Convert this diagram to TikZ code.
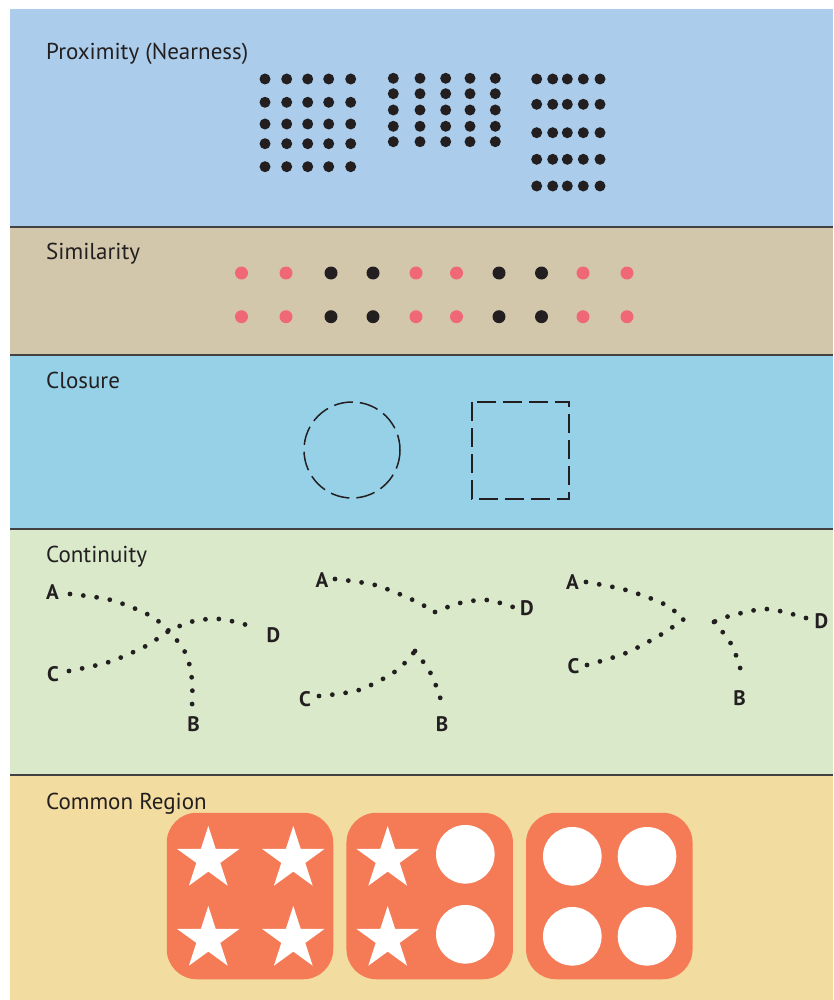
\documentclass[tikz,border=0pt]{standalone}
\usepackage{fontspec}
\usepackage{tikz}
\usetikzlibrary{shapes.geometric}
\newfontfamily\panelfont{PT Sans}
\newfontfamily\letterfont{PT Sans Bold}
\definecolor{ink}{HTML}{231F20}
\definecolor{proxbg}{HTML}{ABCDEB}
\definecolor{simbg}{HTML}{D3C7AB}
\definecolor{closbg}{HTML}{96D1E8}
\definecolor{contbg}{HTML}{D9E9C9}
\definecolor{regbg}{HTML}{F2DC9F}
\definecolor{pinkdot}{HTML}{F06878}
\definecolor{tile}{HTML}{F47B55}

\tikzset{
  title/.style={anchor=base west, inner sep=0, text=ink, font=\panelfont\fontsize{23}{27}\selectfont},
  letter/.style={inner sep=0, text=ink, font=\letterfont\fontsize{21}{24}\selectfont},
  dotp/.style={circle, fill=ink, inner sep=0, minimum size=11pt},
  dots/.style={circle, inner sep=0, minimum size=13pt},
  trail/.style={draw=ink, line width=4.8pt, line cap=round, dash pattern=on 0pt off 13.4pt},
  broken/.style={draw=ink, line width=1.5pt, dash pattern=on 19pt off 7pt},
  region/.style={rectangle, fill=tile, rounded corners=30pt, minimum size=166.5pt, inner sep=0},
  starw/.style={star, star points=5, star point ratio=2.62, fill=white, minimum size=66pt, inner sep=0},
  discw/.style={circle, fill=white, minimum size=58.6pt, inner sep=0}
}

\begin{document}
\begin{tikzpicture}[x=1pt, y=-1pt]
  \useasboundingbox (0,0) rectangle (833,1000);

  % panels
  \fill[proxbg] (10,9) rectangle (833,227);
  \fill[simbg] (10,227) rectangle (833,355);
  \fill[closbg] (10,355) rectangle (833,529);
  \fill[contbg] (10,529) rectangle (833,775);
  \fill[regbg] (10,775) rectangle (833,1000);
  \foreach \y in {227,355,529,775}
    \draw[ink!85, line width=1.4pt] (10,\y) -- (833,\y);

  \node[title] (tprox) at (46,60) {Proximity (Nearness)};
  \node[title] (tsim) at (46,259) {Similarity};
  \node[title] (tclos) at (46,388) {Closure};
  \node[title] (tcont) at (46,562.5) {Continuity};
  \node[title] (treg) at (46,809) {Common Region};

  % proximity
  \foreach \x [count=\i] in {265,286.7,307.7,328.7,350.7}
    \foreach \y [count=\j] in {79,102.3,124,143.7,166.7}
      \node[dotp] (pa-\i-\j) at (\x,\y) {};
  \foreach \x [count=\i] in {393.3,420,445.7,470,495.3}
    \foreach \y [count=\j] in {78.3,93.7,110,126.3,141.7}
      \node[dotp] (pb-\i-\j) at (\x,\y) {};
  \foreach \x [count=\i] in {536.7,552.7,567.3,583.3,600}
    \foreach \y [count=\j] in {79,104.3,132.7,159.3,186}
      \node[dotp] (pc-\i-\j) at (\x,\y) {};

  % similarity
  \foreach \x/\c [count=\i] in {241.5/pinkdot,286/pinkdot,331/ink,373/ink,416/pinkdot,456.5/pinkdot,499/ink,541.5/ink,583/pinkdot,627/pinkdot} {
    \node[dots, fill=\c] (su-\i) at (\x,273) {};
    \node[dots, fill=\c] (sl-\i) at (\x,316.7) {};
  }

  % closure
  \draw[broken] (352,450) circle (48);
  \draw[broken] (472,402) rectangle (569,499);

  % continuity
  \node[letter] (a1) at (52.5,592) {A};
  \node[letter] (d1) at (273.5,635) {D};
  \node[letter] (c1) at (53,674) {C};
  \node[letter] (b1) at (193.5,724) {B};
  \draw[trail] plot[smooth] coordinates {(70,594) (111,600) (149,615) (169,631) (186,654) (192,680) (192,707)};
  \draw[trail] plot[smooth] coordinates {(69,671) (109,662) (146,646) (169,631) (194,621) (220,619) (247,625)};

  \node[letter] (a2) at (322,580) {A};
  \node[letter] (d2) at (527,608) {D};
  \node[letter] (c2) at (305,699) {C};
  \node[letter] (b2) at (442,724) {B};
  \draw[trail] plot[smooth] coordinates {(335,579) (375,585) (413,600) (435,612)};
  \draw[trail] plot[smooth] coordinates {(435,612) (460,603) (487,600) (513,607)};
  \draw[trail] plot[smooth] coordinates {(319,696) (359,690) (396,671) (415,651)};
  \draw[trail] plot[smooth] coordinates {(415,651) (430,672) (440,697) (442,711)};

  \node[letter] (a3) at (572.5,582) {A};
  \node[letter] (d3) at (821.5,621) {D};
  \node[letter] (c3) at (573.5,666.5) {C};
  \node[letter] (b3) at (739.5,698.5) {B};
  \draw[trail] plot[smooth] coordinates {(586,582) (626,590) (664,604) (684,619)};
  \draw[trail] plot[smooth] coordinates {(587,665) (626,653) (662,634) (684,619)};
  \draw[trail] plot[smooth] coordinates {(806,618) (766,609) (726,617) (714,622)};
  \draw[trail] plot[smooth] coordinates {(714,622) (730,642) (740,667) (740,680)};

  % common region
  \node[region] (r1) at (250,896) {};
  \node[region] (r2) at (429.7,896) {};
  \node[region] (r3) at (609.3,896) {};
  \foreach \x/\y [count=\i] in {208.3/859,293.3/859,208.3/939,293.3/939}
    \node[starw] (s1-\i) at (\x,\y) {};
  \node[starw] (s2-1) at (387.7,859) {};
  \node[starw] (s2-2) at (387.7,939) {};
  \node[discw] (o2-1) at (465.3,854.3) {};
  \node[discw] (o2-2) at (465.3,934.3) {};
  \foreach \x/\y [count=\i] in {572.3/856.3,647/856.3,572.3/936.3,647/936.3}
    \node[discw] (o3-\i) at (\x,\y) {};
\end{tikzpicture}
\end{document}
